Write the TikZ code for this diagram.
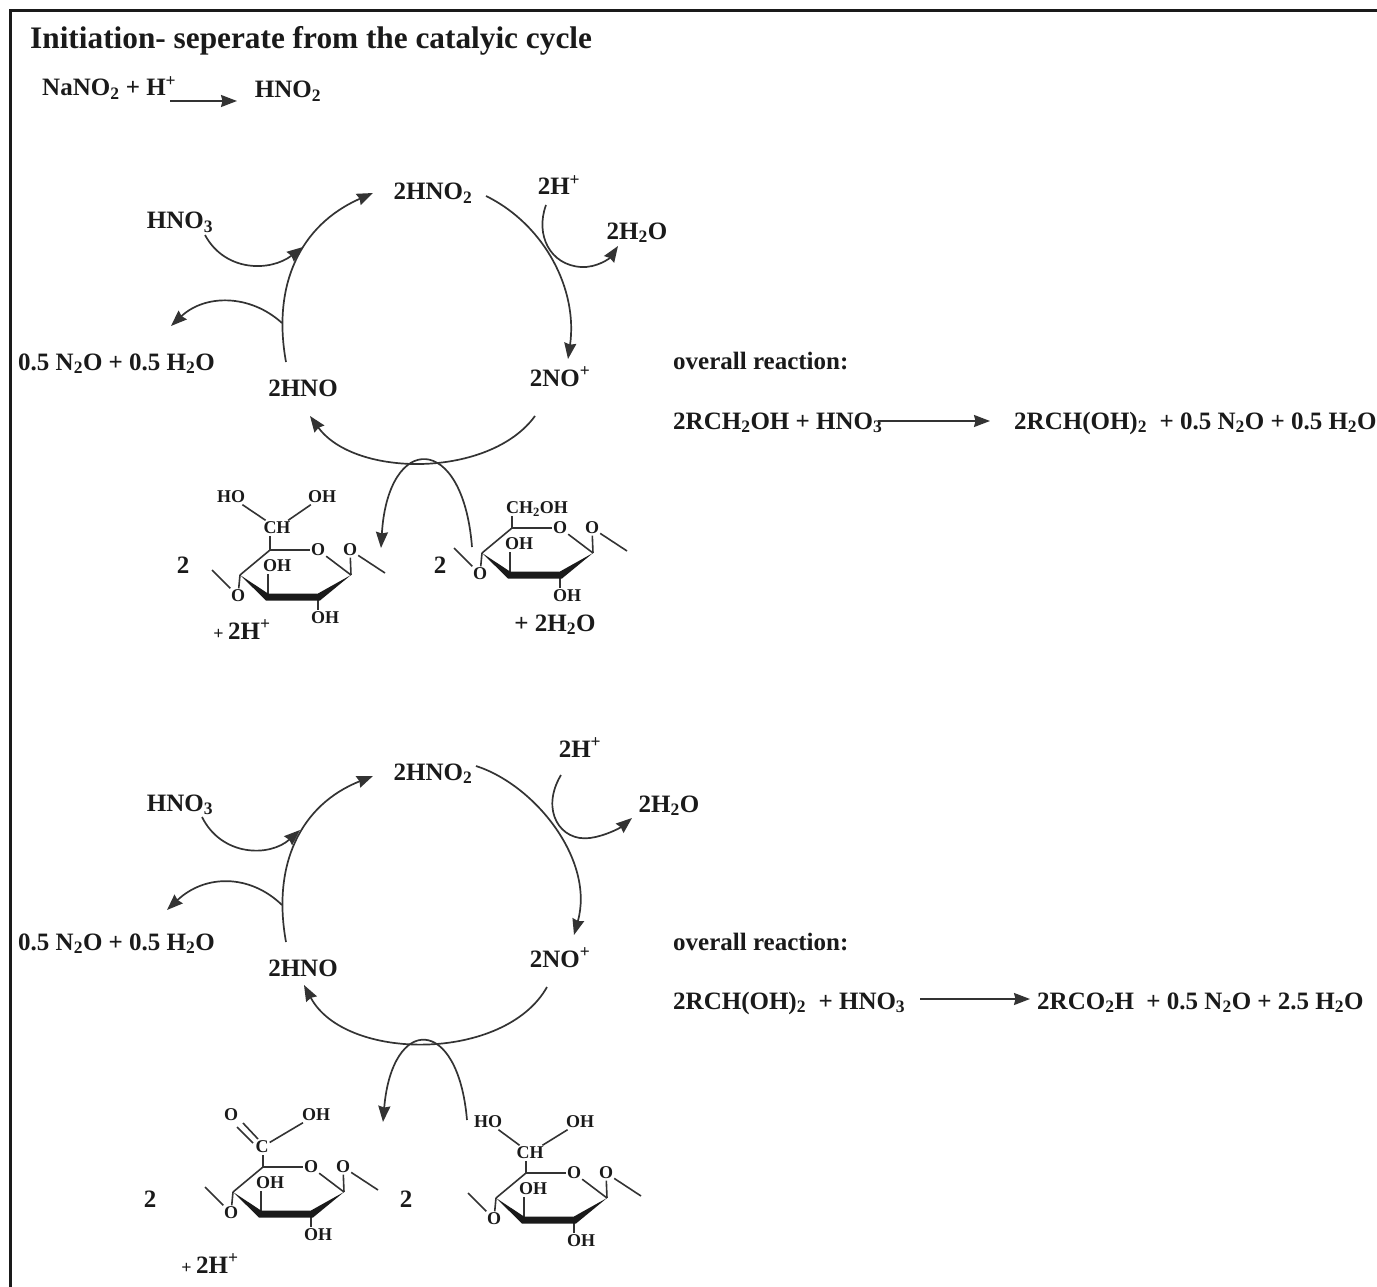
\documentclass[tikz,border=0pt]{standalone}
\usepackage{fontspec}
\setmainfont{Liberation Serif}
\usetikzlibrary{arrows.meta}
\definecolor{ink}{HTML}{1A1A1A}
\definecolor{linec}{HTML}{333333}
\newcommand{\sbt}[1]{\textsubscript{#1}}
\newcommand{\spt}[1]{\textsuperscript{#1}}
\tikzset{
  lab/.style={font=\fontsize{25}{27}\selectfont\bfseries, text=ink, inner sep=3pt, text height=17pt, text depth=1pt},
  titlelab/.style={font=\fontsize{31.3}{33}\selectfont\bfseries, text=ink, inner sep=0pt},
  overall/.style={font=\fontsize{25}{27}\selectfont\bfseries, text=ink, inner sep=0pt, text height=17pt, text depth=1pt},
  atom/.style={font=\fontsize{18}{20}\selectfont\bfseries, text=ink, inner sep=1pt, text height=12pt, text depth=1pt},
  conn/.style={draw=linec, line width=1.7pt},
  arr/.style={conn, -{Stealth[length=16pt,width=12pt,inset=1.5pt]}},
  bond/.style={draw=linec, line width=1.6pt},
  frameline/.style={draw=ink, line width=3pt}
}
% #1 prefix, #2 x of C4, #3 y of C4
\newcommand{\sugarring}[3]{%
\begin{scope}[shift={(#2,#3)}]
  \coordinate (#1c4) at (0,0);
  \coordinate (#1c5) at (30,-25);
  \coordinate (#1c1) at (111,0);
  \coordinate (#1c2) at (78,22);
  \coordinate (#1c3) at (28,22);
  \coordinate (#1outa) at (-28,-5);
  \coordinate (#1outb) at (145,-2);
  \node[atom] (#1ro) at (78,-25) {O};
  \node[atom] (#1oa) at (-2,21) {O};
  \node[atom] (#1ob) at (110,-25) {O};
  \node[atom] (#1oh3) at (37,-9) {OH};
  \node[atom] (#1oh2) at (85,43) {OH};
  \draw[bond] (#1c4) -- (#1c5) -- (#1ro);
  \draw[bond] (#1ro) -- (#1c1);
  \draw[bond] (#1c4) -- (#1oa) -- (#1outa);
  \draw[bond] (#1c1) -- (#1ob) -- (#1outb);
  \draw[bond] (#1c3) -- (#1c3 |- #1oh3.south);
  \draw[bond] (#1c2) -- (#1c2 |- #1oh2.north);
  \fill[ink] (#1c4) -- (28,18.5) -- (78,18.5) -- (#1c1) -- (80,25.5) -- (26,25.5) -- cycle;
\end{scope}}
\begin{document}
\begin{tikzpicture}[x=1pt,y=-1pt]
\useasboundingbox (0,0) rectangle (1377,1287);
\fill[white] (0,0) rectangle (1377,1287);
\draw[frameline] (10,1287) -- (10,11) -- (1377,11);

\node[titlelab,anchor=west] (title) at (30,41) {Initiation- seperate from the catalyic cycle};
\node[lab,anchor=west,inner sep=0pt] (nano) at (42,88) {NaNO\sbt{2} + H\spt{+}};
\node[lab] (hnotop) at (288,90) {HNO\sbt{2}};
\coordinate (ia) at (170,101);
\coordinate (ib) at (237,101);
\draw[arr] (ia) -- (ib);

% upper cycle
\node[lab] (u2hno2) at (433,192) {2HNO\sbt{2}};
\node[lab] (u2h) at (559,187) {2H\spt{+}};
\node[lab] (uhno3) at (180,221) {HNO\sbt{3}};
\node[lab] (u2h2o) at (637,231) {2H\sbt{2}O};
\node[lab,anchor=west,inner sep=0pt] (un2o) at (18,362) {0.5 N\sbt{2}O + 0.5 H\sbt{2}O};
\node[lab] (u2hno) at (303,388) {2HNO};
\node[lab] (u2no) at (560,378) {2NO\spt{+}};
\coordinate (ula) at (286,362);
\coordinate (ulb) at (373,193);
\coordinate (ura) at (486,196);
\coordinate (urb) at (568,359);
\coordinate (uba) at (535,416);
\coordinate (ubb) at (310,416);
\coordinate (uha) at (205,235);
\coordinate (uhb) at (303,247);
\coordinate (uoa) at (282,323);
\coordinate (uob) at (171,326);
\coordinate (uwa) at (546,205);
\coordinate (uwm) at (581,267);
\coordinate (uwb) at (618,246);
\coordinate (usa) at (472,547);
\coordinate (usb) at (381,548);
\draw[arr] (ula) .. controls (272,285) and (300,225) .. (ulb);
\draw[arr] (ura) .. controls (545,225) and (578,290) .. (urb);
\draw[arr] (uba) .. controls (490,478) and (355,478) .. (ubb);
\draw[arr] (uha) .. controls (225,272) and (270,272) .. (uhb);
\draw[arr] (uoa) .. controls (250,294) and (205,294) .. (uob);
\draw[arr] (uwa) .. controls (535,235) and (550,265) .. (uwm) .. controls (597,268) and (610,258) .. (uwb);
\draw[arr] (usa) .. controls (463,432) and (388,432) .. (usb);

\node[overall,anchor=west] (uov) at (673,361) {overall reaction:};
\node[lab,anchor=west,inner sep=0pt] (ueql) at (673,421) {2RCH\sbt{2}OH + HNO\sbt{3}};
\node[lab,anchor=west,inner sep=0pt] (ueqr) at (1014,421) {2RCH(OH)\sbt{2} ~+ 0.5 N\sbt{2}O + 0.5 H\sbt{2}O};
\coordinate (uea) at (878,421);
\coordinate (ueb) at (990,421);
\draw[arr] (uea) -- (ueb);

% upper sugars
\sugarring{sa}{240}{575}
\node[atom] (sach) at (277,528) {CH};
\node[atom] (saho) at (231,497) {HO};
\node[atom] (saoh) at (322,497) {OH};
\draw[bond] (sac5) -- (sac5 |- sach.south);
\draw[bond] (sach) -- (saho);
\draw[bond] (sach) -- (saoh);
\node[lab] (satwo) at (183,565) {2};
\node[lab] (sahp) at (242,631) {\fontsize{18}{20}\selectfont+ \fontsize{25}{27}\selectfont 2H\spt{+}};

\sugarring{sb}{482}{553}
\node[atom] (sbch) at (537,508) {CH\sbt{2}OH};
\draw[bond] (sbc5) -- (sbc5 |- sbch.south);
\node[lab] (sbtwo) at (440,565) {2};
\node[lab] (sbw) at (555,623) {+ 2H\sbt{2}O};

% lower cycle
\node[lab] (l2hno2) at (433,772) {2HNO\sbt{2}};
\node[lab] (l2h) at (580,749) {2H\spt{+}};
\node[lab] (lhno3) at (180,803) {HNO\sbt{3}};
\node[lab] (l2h2o) at (669,804) {2H\sbt{2}O};
\node[lab,anchor=west,inner sep=0pt] (ln2o) at (18,942) {0.5 N\sbt{2}O + 0.5 H\sbt{2}O};
\node[lab] (l2hno) at (303,968) {2HNO};
\node[lab] (l2no) at (560,959) {2NO\spt{+}};
\coordinate (lla) at (286,942);
\coordinate (llb) at (373,776);
\coordinate (lra) at (476,766);
\coordinate (lrb) at (574,935);
\coordinate (lba) at (547,987);
\coordinate (lbb) at (304,985);
\coordinate (lha) at (202,817);
\coordinate (lhb) at (300,830);
\coordinate (loa) at (282,905);
\coordinate (lob) at (167,910);
\coordinate (lwa) at (561,775);
\coordinate (lwm) at (590,838);
\coordinate (lwb) at (632,818);
\coordinate (lsa) at (467,1120);
\coordinate (lsb) at (383,1122);
\draw[arr] (lla) .. controls (272,865) and (300,805) .. (llb);
\draw[arr] (lra) .. controls (535,785) and (595,860) .. (lrb);
\draw[arr] (lba) .. controls (505,1062) and (345,1062) .. (lbb);
\draw[arr] (lha) .. controls (222,857) and (270,857) .. (lhb);
\draw[arr] (loa) .. controls (250,874) and (205,874) .. (lob);
\draw[arr] (lwa) .. controls (540,810) and (560,842) .. (lwm) .. controls (605,836) and (620,828) .. (lwb);
\draw[arr] (lsa) .. controls (458,1015) and (392,1015) .. (lsb);

\node[overall,anchor=west] (lov) at (673,942) {overall reaction:};
\node[lab,anchor=west,inner sep=0pt] (leql) at (673,1001) {2RCH(OH)\sbt{2} ~+ HNO\sbt{3}};
\node[lab,anchor=west,inner sep=0pt] (leqr) at (1037,1001) {2RCO\sbt{2}H ~+ 0.5 N\sbt{2}O + 2.5 H\sbt{2}O};
\coordinate (lea) at (920,999);
\coordinate (leb) at (1030,999);
\draw[arr] (lea) -- (leb);

% lower sugars
\sugarring{sc}{233}{1192}
\node[atom] (scc) at (262,1147) {C};
\node[atom] (sco) at (231,1115) {O};
\node[atom] (scoh) at (316,1115) {OH};
\coordinate (dba) at (258,1139);
\coordinate (dbb) at (243,1123);
\coordinate (dbc) at (253,1143);
\coordinate (dbd) at (237,1127);
\draw[bond] (scc5) -- (scc5 |- scc.south);
\draw[bond] (dba) -- (dbb);
\draw[bond] (dbc) -- (dbd);
\draw[bond] (scc) -- (scoh);
\node[lab] (sctwo) at (150,1199) {2};
\node[lab] (schp) at (210,1265) {\fontsize{18}{20}\selectfont+ \fontsize{25}{27}\selectfont 2H\spt{+}};

\sugarring{sd}{496}{1198}
\node[atom] (sdch) at (530,1153) {CH};
\node[atom] (sdho) at (488,1122) {HO};
\node[atom] (sdoh) at (580,1122) {OH};
\draw[bond] (sdc5) -- (sdc5 |- sdch.south);
\draw[bond] (sdch) -- (sdho);
\draw[bond] (sdch) -- (sdoh);
\node[lab] (sdtwo) at (406,1199) {2};
\end{tikzpicture}
\end{document}
